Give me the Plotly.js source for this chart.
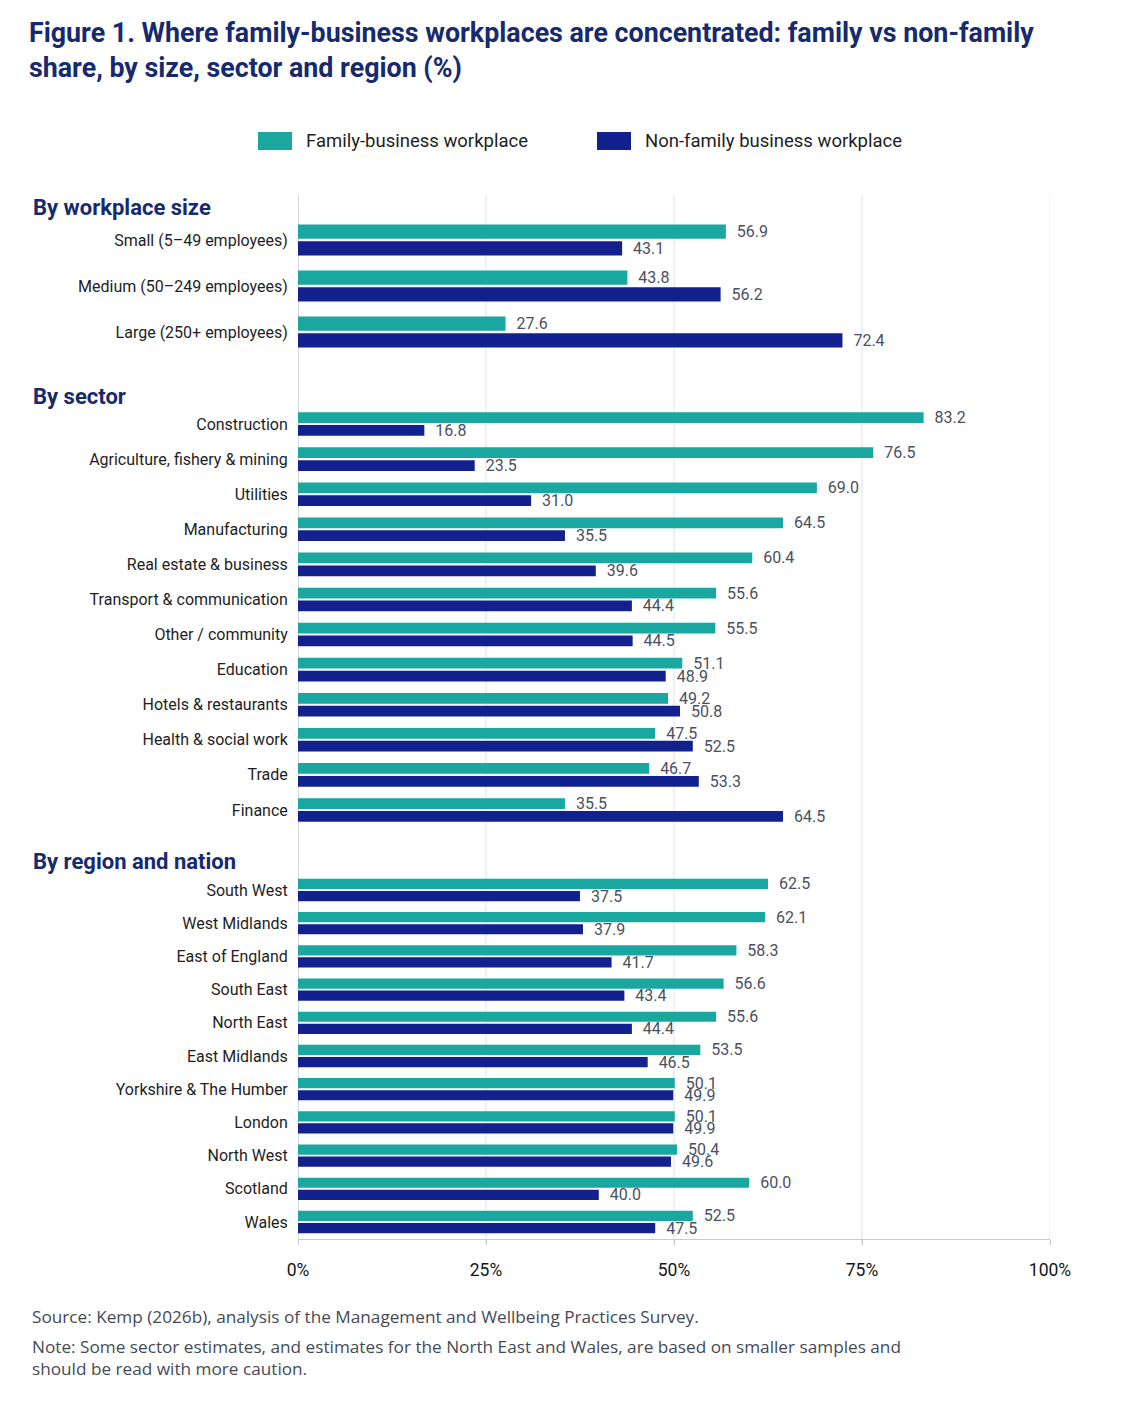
<!DOCTYPE html>
<html>
<head>
<meta charset="utf-8">
<script src="https://cdn.plot.ly/plotly-3.0.1.min.js"></script>
<style>
  html, body { margin: 0; padding: 0; background: #ffffff; }
  #chart { width: 1122px; height: 1402px; }
</style>
</head>
<body>
<div id="chart"></div>
<script>
// ---- data ----
const size_labels = ["Small (5–49 employees)", "Medium (50–249 employees)", "Large (250+ employees)"];
const size_family = [56.9, 43.8, 27.6];
const size_nonfamily = [43.1, 56.2, 72.4];

const sector_labels = ["Construction", "Agriculture, fishery & mining", "Utilities", "Manufacturing",
    "Real estate & business", "Transport & communication", "Other / community", "Education",
    "Hotels & restaurants", "Health & social work", "Trade", "Finance"];
const sector_family = [83.2, 76.5, 69.0, 64.5, 60.4, 55.6, 55.5, 51.1, 49.2, 47.5, 46.7, 35.5];
const sector_nonfamily = [16.8, 23.5, 31.0, 35.5, 39.6, 44.4, 44.5, 48.9, 50.8, 52.5, 53.3, 64.5];

const region_labels = ["South West", "West Midlands", "East of England", "South East", "North East",
    "East Midlands", "Yorkshire & The Humber", "London", "North West", "Scotland", "Wales"];
const region_family = [62.5, 62.1, 58.3, 56.6, 55.6, 53.5, 50.1, 50.1, 50.4, 60.0, 52.5];
const region_nonfamily = [37.5, 37.9, 41.7, 43.4, 44.4, 46.5, 49.9, 49.9, 49.6, 40.0, 47.5];

const section_titles = ["By workplace size", "By sector", "By region and nation"];
const series_names = ["Family-business workplace", "Non-family business workplace"];
const x_ticks = [0, 25, 50, 75, 100];
const x_tick_text = ["0%", "25%", "50%", "75%", "100%"];

// ---- style ----
const teal = "#19a7a0";
const navy = "#13218f";
const title_navy = "#172a6e";
const font_family = "Roboto, 'Noto Sans', sans-serif";
const note_family = "'Open Sans', Roboto, sans-serif";

function bar_trace(labels, values, name, color, yaxis) {
    return {
        type: 'bar',
        orientation: 'h',
        name: name,
        y: labels,
        x: values,
        yaxis: yaxis,
        xaxis: 'x',
        marker: {color: color},
        // small leading gap between bar end and its label
        text: values.map((v) => '\u00a0\u00a0' + v.toFixed(1)),
        textposition: 'outside',
        constraintext: 'none',
        cliponaxis: false,
        textfont: {family: font_family, size: 16, color: '#4a5060'},
        showlegend: false,
        hoverinfo: 'skip',
    };
}

let traces = [
    bar_trace(size_labels, size_family, series_names[0], teal, 'y'),
    bar_trace(size_labels, size_nonfamily, series_names[1], navy, 'y'),
    bar_trace(sector_labels, sector_family, series_names[0], teal, 'y2'),
    bar_trace(sector_labels, sector_nonfamily, series_names[1], navy, 'y2'),
    bar_trace(region_labels, region_family, series_names[0], teal, 'y3'),
    bar_trace(region_labels, region_nonfamily, series_names[1], navy, 'y3'),
];

// plot area in px: x 298..1050, y 195..1245
const W = 1122, H = 1402;
const top_px = 195, bot_px = 1245, left_px = 298, right_px = 1050;
const py = (px) => (bot_px - px) / (bot_px - top_px);
const px_x = (px) => (px - left_px) / (right_px - left_px);

function y_axis(domain) {
    return {
        domain: domain,
        anchor: 'x',
        type: 'category',
        autorange: 'reversed',
        showgrid: false,
        zeroline: false,
        showline: false,
        ticks: 'outside',
        ticklen: 6,
        tickcolor: 'rgba(0,0,0,0)',
        tickfont: {family: font_family, size: 16, color: '#1e1e24'},
        fixedrange: true,
    };
}

// grid lines across the whole chart height
let shapes = x_ticks.map((t) => ({
    type: 'line', xref: 'x', yref: 'paper',
    x0: t, x1: t, y0: 0, y1: 1,
    line: {color: t === 0 ? '#c6ccd8' : '#dde1e8', width: t === 0 ? 1.5 : 1},
    layer: 'below',
}));

let annotations = [];

// title
annotations.push({
    text: '<b>Figure 1. Where family-business workplaces are concentrated: family vs non-family<br>share, by size, sector and region (%)</b>',
    xref: 'paper', yref: 'paper',
    x: px_x(27), y: py(15),
    xanchor: 'left', yanchor: 'top', align: 'left',
    showarrow: false,
    font: {family: font_family, size: 26.8, color: title_navy},
});

// legend (swatches + labels)
let legend_swatch_x = [258, 597];
let legend_colors = [teal, navy];
series_names.forEach((name, i) => {
    shapes.push({
        type: 'rect', xref: 'paper', yref: 'paper',
        x0: px_x(legend_swatch_x[i]), x1: px_x(legend_swatch_x[i] + 34),
        y0: py(150), y1: py(132),
        fillcolor: legend_colors[i], line: {width: 0},
    });
    annotations.push({
        text: name,
        xref: 'paper', yref: 'paper',
        x: px_x(legend_swatch_x[i] + 46), y: py(141),
        xanchor: 'left', yanchor: 'middle',
        showarrow: false,
        font: {family: font_family, size: 18.5, color: '#1e1e24'},
    });
});

// section headers
let section_y = [207, 396, 862];
section_titles.forEach((t, i) => {
    annotations.push({
        text: '<b>' + t + '</b>',
        xref: 'paper', yref: 'paper',
        x: px_x(31), y: py(section_y[i]),
        xanchor: 'left', yanchor: 'middle',
        showarrow: false,
        font: {family: font_family, size: 22, color: title_navy},
    });
});

annotations.push({
    text: "Source: Kemp (2026b), analysis of the Management and Wellbeing Practices Survey.",
    xref: 'paper', yref: 'paper', x: px_x(30), y: py(1316),
    xanchor: 'left', yanchor: 'middle', align: 'left', showarrow: false,
    font: {family: note_family, size: 17.2, color: '#444a55'},
});
annotations.push({
    text: "Note: Some sector estimates, and estimates for the North East and Wales, are based on smaller samples and<br>should be read with more caution.",
    xref: 'paper', yref: 'paper', x: px_x(30), y: py(1333),
    xanchor: 'left', yanchor: 'top', align: 'left', showarrow: false,
    font: {family: note_family, size: 17.2, color: '#444a55'},
});

let layout = {
    width: W,
    height: H,
    margin: {l: left_px, r: W - right_px, t: top_px, b: H - bot_px},
    paper_bgcolor: '#ffffff',
    plot_bgcolor: '#ffffff',
    font: {family: font_family},
    barmode: 'group',
    bargap: 0.27,
    bargroupgap: 0.16,
    showlegend: false,
    xaxis: {
        anchor: 'y3',
        range: [0, 100],
        tickvals: x_ticks,
        ticktext: x_tick_text,
        showgrid: false,
        zeroline: false,
        showline: true,
        linecolor: '#c3cad8',
        linewidth: 1.5,
        ticks: 'outside',
        ticklen: 5,
        tickcolor: '#c3cad8',
        ticklabelstandoff: 10,
        tickfont: {family: font_family, size: 17.5, color: '#15151a'},
        fixedrange: true,
    },
    yaxis: y_axis([py(355), py(217)]),
    yaxis2: y_axis([py(827.5), py(406.5)]),
    yaxis3: y_axis([py(1238.6), py(873.4)]),
    shapes: shapes,
    annotations: annotations,
};

Plotly.newPlot('chart', traces, layout, {displayModeBar: false, staticPlot: true});
</script>
</body>
</html>
